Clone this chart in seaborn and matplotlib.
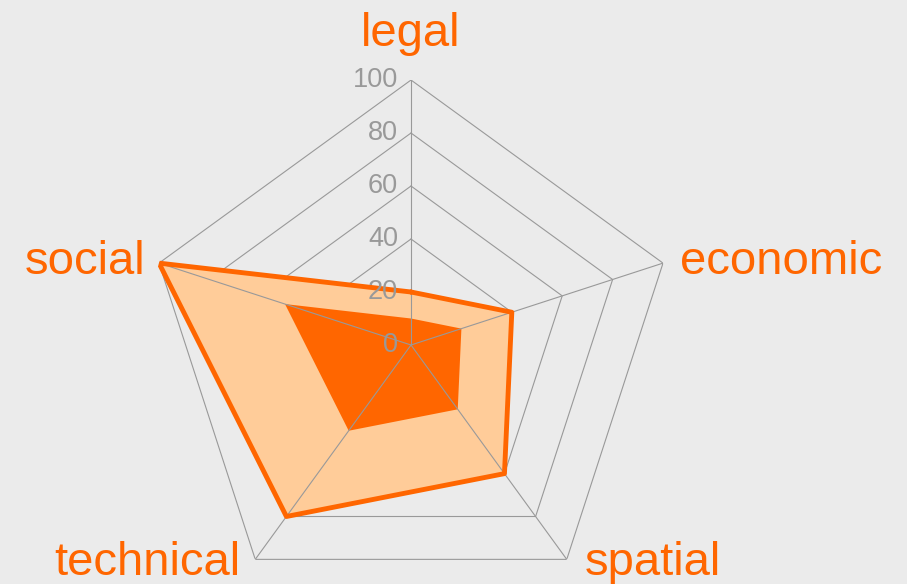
import numpy as np
import pandas as pd
import matplotlib
matplotlib.use("Agg")
import matplotlib.pyplot as plt
import seaborn as sns

# Dane
categories = ["legal", "economic", "spatial", "technical", "social"]
outer_values = [20, 40, 60, 80, 100]
inner_values = [10, 20, 30, 40, 50]
ring_levels = [0, 20, 40, 60, 80, 100]

bg = "#EBEBEB"
dark = "#FF6600"
light = "#FFCC99"
grid_col = "#999999"

sns.set_theme(style="white", rc={"figure.facecolor": bg, "axes.facecolor": bg})
plt.rcParams["font.family"] = ["Liberation Sans", "DejaVu Sans"]

angles = np.linspace(0, 2 * np.pi, len(categories), endpoint=False)
ang_closed = np.append(angles, 2 * np.pi)

fig = plt.figure(figsize=(9.07, 5.84), dpi=100)
ax = fig.add_axes([0.161, -0.0445, 0.5843, 0.9075], projection="polar")
ax.set_theta_offset(np.pi / 2)
ax.set_theta_direction(-1)
ax.set_ylim(0, 100)
ax.grid(False)
ax.spines["polar"].set_visible(False)
ax.set_xticks([])
ax.set_yticks([])
ax.patch.set_alpha(0)

# Siatka pięciokątna (pod wypełnieniem)
for r in ring_levels[1:]:
    ax.plot(ang_closed, [r] * len(ang_closed), color=grid_col, lw=0.8, zorder=1)

# Serie
outer_closed = outer_values + outer_values[:1]
inner_closed = inner_values + inner_values[:1]
ax.fill(ang_closed, outer_closed, color=light, zorder=2, lw=0)
ax.fill(ang_closed, inner_closed, color=dark, zorder=3, lw=0)
df = pd.DataFrame({"theta": ang_closed, "r": outer_closed})
sns.lineplot(data=df, x="theta", y="r", sort=False, estimator=None,
             color=dark, lw=3.5, ax=ax, zorder=5)
ax.set_xlabel("")
ax.set_ylabel("")
ax.set_ylim(0, 100)

# Szprychy widoczne na wypełnieniu
for a in angles:
    ax.plot([a, a], [0, 100], color=grid_col, lw=0.8, zorder=4)

# Etykiety skali
for r in ring_levels:
    ax.annotate(str(r), xy=(0, r), xytext=(-13, 0), textcoords="offset pixels",
                ha="right", va="center", color="#999999", fontsize=19.5, zorder=6)

# Etykiety kategorii
offsets = [(0, 46, "center"), (17, 1, "left"), (18, -4, "left"),
           (-15, -4, "right"), (-14, 1, "right")]
for a, name, (dx, dy, ha) in zip(angles, categories, offsets):
    ax.annotate(name, xy=(a, 100), xytext=(dx, dy), textcoords="offset pixels",
                ha=ha, va="center", color=dark, fontsize=34, zorder=6,
                annotation_clip=False)

fig.savefig("out.png", dpi=100, facecolor=bg)
